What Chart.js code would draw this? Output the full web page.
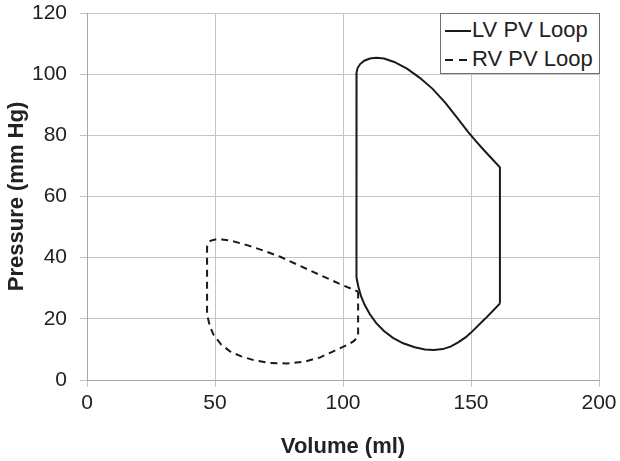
<!DOCTYPE html>
<html>
<head>
<meta charset="utf-8">
<script src="https://cdn.jsdelivr.net/npm/chart.js@4/dist/chart.umd.min.js"></script>
<style>
  body { margin: 0; background: #fff; }
  #wrap { position: relative; width: 620px; height: 461px; }
  #legend {
    position: absolute; left: 440px; top: 13px; width: 158px; height: 59px;
    border: 1px solid #707070; background: #fff;
    font-family: "Liberation Sans", Arial, sans-serif; font-size: 22px; color: #222;
  }
  .row { position: absolute; left: 0; height: 26px; line-height: 26px; white-space: nowrap; }
  .smp { position: absolute; left: 4px; width: 26px; top: 13px; }
  .lbl { position: absolute; left: 31px; top: 0; }
  .solid { border-top: 2px solid #1a1a1a; }
  .dash { position: absolute; top: 13px; width: 8px; border-top: 2px solid #1a1a1a; }
</style>
</head>
<body>
<div id="wrap">
  <canvas id="mycanvas"></canvas>
  <div id="legend">
    <div class="row" style="top:3px"><div class="smp solid"></div><span class="lbl">LV PV Loop</span></div>
    <div class="row" style="top:32px">
      <div class="dash" style="left:4px"></div><div class="dash" style="left:18px"></div>
      <span class="lbl">RV PV Loop</span>
    </div>
  </div>
</div>
<script>
// left ventricle loop, volume (ml) / pressure (mm Hg)
var lvVol = [161.3, 161.3, 158, 155, 152, 149, 145, 140, 135, 130, 125, 120, 116, 113, 110.5, 108.3, 106.7, 105.7, 105.3, 105.2, 105.2, 105.4, 106, 107, 108.5, 110.5, 113, 116, 119.5, 123.5, 128, 132, 135.5, 139, 142, 145, 148, 150, 155.5, 161.3];
var lvPres = [25, 69.5, 72.5, 75.2, 78, 81, 85.3, 90.6, 95.2, 98.8, 101.8, 104, 105.1, 105.4, 105.1, 104.4, 103.3, 102, 100.5, 98, 37, 33.5, 30.5, 27.5, 24.5, 21.5, 18.6, 16, 13.8, 12, 10.7, 10, 9.8, 10.1, 10.9, 12.3, 14, 15.5, 20, 25];

// right ventricle loop
var rvVol = [105.9, 105.9, 104.3, 102.3, 100.2, 96, 91.1, 85, 78.1, 71, 65.1, 60, 56, 52.5, 49.5, 48, 47.3, 46.9, 46.9, 47.3, 48.2, 50, 52.7, 56, 62.5, 69, 75.5, 83, 91.1, 98.5, 105.9];
var rvPres = [28.9, 14.2, 12.8, 11.7, 10.9, 9.3, 7.4, 6, 5.4, 5.6, 6.5, 7.8, 9.3, 11.5, 14.7, 17.5, 20, 22, 43.5, 44.8, 45.5, 45.9, 45.9, 45.6, 44.1, 42.3, 40.3, 37.4, 34.3, 31.5, 28.9];

var xTicks = [0, 50, 100, 150, 200];
var yTicks = [0, 20, 40, 60, 80, 100, 120];

function pts(xs, ys) {
  var out = [];
  for (var i in xs) out.push({x: xs[i], y: ys[i]});
  return out;
}

var font = "'Liberation Sans', Arial, sans-serif";
var gridColor = '#c4c4c4';

var chart = new Chart(document.getElementById('mycanvas'), {
  type: 'scatter',
  data: {
    datasets: [
      { label: 'LV PV Loop', data: pts(lvVol, lvPres), showLine: true, borderColor: '#1a1a1a',
        borderWidth: 2, pointRadius: 0, tension: 0, fill: false },
      { label: 'RV PV Loop', data: pts(rvVol, rvPres), showLine: true, borderColor: '#1a1a1a',
        borderWidth: 2, borderDash: [7, 5], pointRadius: 0, tension: 0, fill: false }
    ]
  },
  options: {
    responsive: true,
    maintainAspectRatio: false,
    animation: false,
    layout: { padding: { top: 13, right: 21, left: 0, bottom: 0 } },
    plugins: { legend: { display: false }, tooltip: { enabled: false } },
    scales: {
      x: {
        type: 'linear', min: xTicks[0], max: xTicks[xTicks.length - 1],
        afterBuildTicks: function(s) { s.ticks = xTicks.map(function(v) { return {value: v}; }); },
        afterFit: function(s) { s.height = 81; s.paddingLeft = 0; s.paddingRight = 0; },
        ticks: { color: '#222', font: { family: font, size: 21 }, padding: 4, maxRotation: 0 },
        grid: { color: gridColor, tickLength: 7 },
        border: { color: '#a8a8a8' },
        title: { display: true, text: 'Volume (ml)', color: '#222',
          font: { family: font, size: 22, weight: 'bold' }, padding: { top: 0, bottom: 1 } }
      },
      y: {
        type: 'linear', min: yTicks[0], max: yTicks[yTicks.length - 1],
        afterBuildTicks: function(s) { s.ticks = yTicks.map(function(v) { return {value: v}; }); },
        afterFit: function(s) { s.width = 87; s.paddingTop = 0; s.paddingBottom = 0; },
        ticks: { color: '#222', font: { family: font, size: 21 }, padding: 13 },
        grid: { color: gridColor, tickLength: 7 },
        border: { color: '#a8a8a8' },
        title: { display: true, text: 'Pressure (mm Hg)', color: '#222',
          font: { family: font, size: 22, weight: 'bold' }, padding: { top: 4, bottom: 0 } }
      }
    }
  }
});
</script>
</body>
</html>
